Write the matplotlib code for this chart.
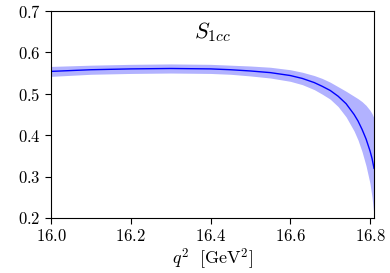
import matplotlib
matplotlib.use('Agg')
import matplotlib.pyplot as plt

plt.rcParams['font.family'] = 'serif'
plt.rcParams['font.serif'] = ['cmr10']
plt.rcParams['mathtext.fontset'] = 'cm'
plt.rcParams['axes.formatter.use_mathtext'] = True

# values
q2 = [16.00, 16.10, 16.20, 16.30, 16.40, 16.45, 16.50, 16.55, 16.60, 16.63,
      16.66, 16.68, 16.70, 16.72, 16.74, 16.76, 16.77, 16.78, 16.79, 16.80,
      16.805, 16.81]
s1cc = [0.554, 0.558, 0.560, 0.561, 0.560, 0.558, 0.555, 0.551, 0.544, 0.537,
        0.527, 0.518, 0.508, 0.494, 0.476, 0.450, 0.434, 0.414, 0.391, 0.362,
        0.344, 0.320]
s1cc_lo = [0.542, 0.547, 0.549, 0.550, 0.549, 0.547, 0.543, 0.538, 0.530, 0.522,
           0.510, 0.499, 0.487, 0.469, 0.444, 0.410, 0.388, 0.360, 0.326, 0.283,
           0.250, 0.205]
s1cc_hi = [0.566, 0.569, 0.571, 0.572, 0.571, 0.569, 0.567, 0.564, 0.558, 0.552,
           0.544, 0.537, 0.528, 0.517, 0.506, 0.494, 0.488, 0.481, 0.472, 0.460,
           0.452, 0.441]

fig = plt.figure(figsize=(3.9, 2.73), dpi=100)
ax = fig.add_axes([0.131, 0.2015, 0.828, 0.7585])

ax.fill_between(q2, s1cc_lo, s1cc_hi, color='blue', alpha=0.3, lw=0)
ax.plot(q2, s1cc, color='blue', lw=1)

ax.set_xlim(16.0, 16.81)
ax.set_ylim(0.2, 0.7)
ax.set_xticks([16.0, 16.2, 16.4, 16.6, 16.8])
ax.set_yticks([0.2, 0.3, 0.4, 0.5, 0.6, 0.7])
ax.tick_params(direction='out', length=4, labelsize=12)
ax.set_xlabel(r'$q^2\ \ [\mathrm{GeV}^2]$', fontsize=13, labelpad=2)
ax.text(16.405, 0.65, r'$S_{1cc}$', fontsize=16, ha='center', va='center')

plt.savefig('out.png', dpi=100)
